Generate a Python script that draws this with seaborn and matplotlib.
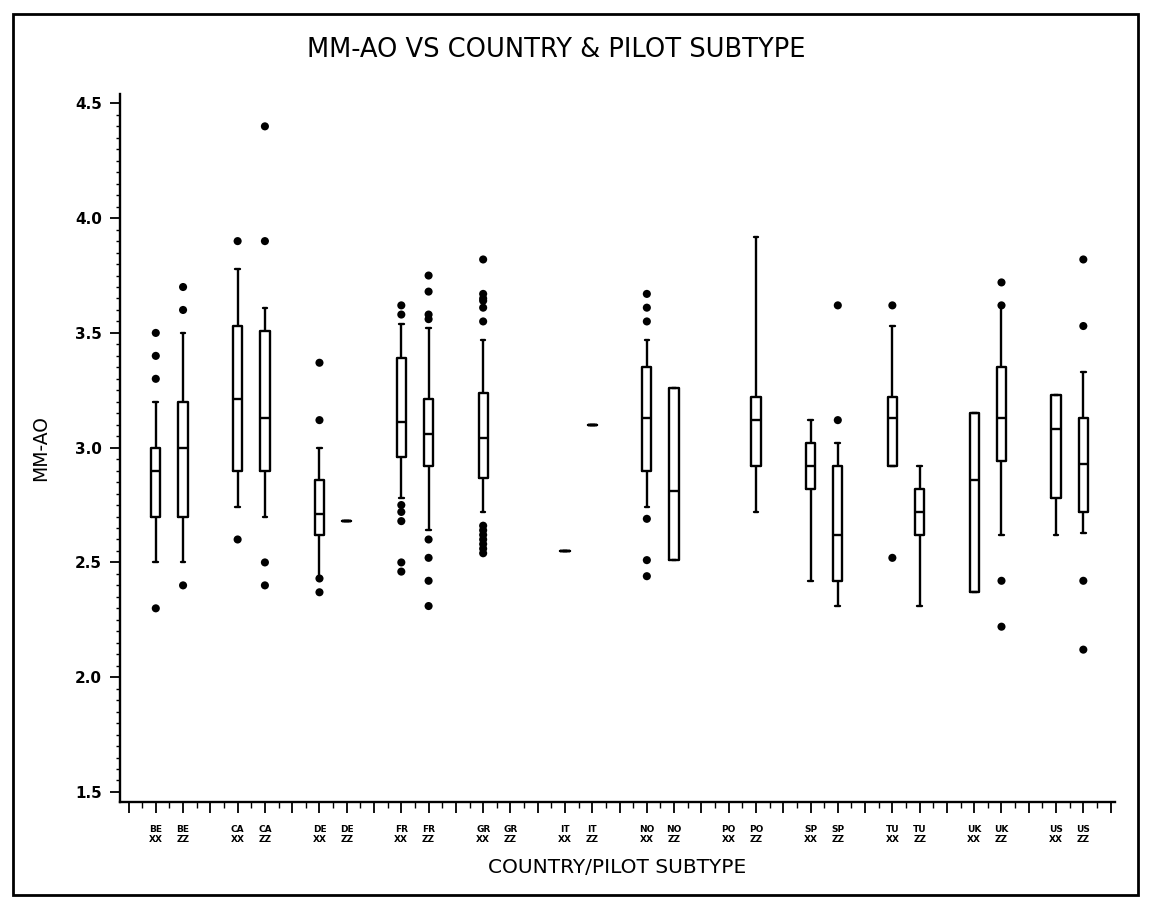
import pandas as pd
import matplotlib.pyplot as plt
from matplotlib.patches import Rectangle
from matplotlib.ticker import MultipleLocator
import seaborn as sns

# groups: country x pilot subtype (XX, ZZ)
countries = ["BE", "CA", "DE", "FR", "GR", "IT", "NO", "PO", "SP", "TU", "UK", "US"]
subtypes = ["XX", "ZZ"]

# box summaries, one entry per group (None = no data)
whisk_lo = [2.50, 2.50, 2.74, 2.70, 2.43, 2.68, 2.78, 2.64, 2.72, None, 2.55, 3.10,
            2.74, 2.51, None, 2.72, 2.42, 2.31, 2.92, 2.31, 2.37, 2.62, 2.62, 2.63]
q1 = [2.70, 2.70, 2.90, 2.90, 2.62, 2.68, 2.96, 2.92, 2.87, None, 2.55, 3.10,
      2.90, 2.51, None, 2.92, 2.82, 2.42, 2.92, 2.62, 2.37, 2.94, 2.78, 2.72]
median = [2.90, 3.00, 3.21, 3.13, 2.71, 2.68, 3.11, 3.06, 3.04, None, 2.55, 3.10,
          3.13, 2.81, None, 3.12, 2.92, 2.62, 3.13, 2.72, 2.86, 3.13, 3.08, 2.93]
q3 = [3.00, 3.20, 3.53, 3.51, 2.86, 2.68, 3.39, 3.21, 3.24, None, 2.55, 3.10,
      3.35, 3.26, None, 3.22, 3.02, 2.92, 3.22, 2.82, 3.15, 3.35, 3.23, 3.13]
whisk_hi = [3.20, 3.50, 3.78, 3.61, 3.00, 2.68, 3.54, 3.52, 3.47, None, 2.55, 3.10,
            3.47, 3.26, None, 3.92, 3.12, 3.02, 3.53, 2.92, 3.15, 3.62, 3.23, 3.33]
outliers = [
    [2.30, 3.30, 3.40, 3.50],
    [2.40, 3.60, 3.70],
    [2.60, 3.90],
    [2.40, 2.50, 3.90, 4.40],
    [2.37, 2.43, 3.12, 3.37],
    [],
    [2.46, 2.50, 2.68, 2.72, 2.75, 3.58, 3.62],
    [2.31, 2.42, 2.52, 2.60, 3.56, 3.58, 3.68, 3.75],
    [2.54, 2.56, 2.58, 2.60, 2.62, 2.64, 2.66, 3.55, 3.61, 3.64, 3.65, 3.67, 3.82],
    [],
    [],
    [],
    [2.44, 2.51, 2.69, 3.55, 3.61, 3.67],
    [],
    [],
    [],
    [],
    [3.12, 3.62],
    [2.52, 3.62],
    [],
    [],
    [2.22, 2.42, 3.62, 3.72],
    [],
    [2.12, 2.42, 3.53, 3.82],
]

# slot position of each group on the axis: XX, ZZ, then an empty slot
labels = []
positions = []
for i, c in enumerate(countries):
    for j, s in enumerate(subtypes):
        labels.append(c + "\n" + s)
        positions.append(i * 3 + j)

box_rows = []
out_rows = []
for k, pos in enumerate(positions):
    if median[k] is not None:
        for v in [whisk_lo[k], q1[k], median[k], q3[k], whisk_hi[k]]:
            box_rows.append({"pos": pos, "value": v})
    for v in outliers[k]:
        out_rows.append({"pos": pos, "value": v})
box_df = pd.DataFrame(box_rows)
out_df = pd.DataFrame(out_rows)

sns.set_style("ticks")
plt.rcParams["font.family"] = ["DejaVu Sans"]
for key in ["text.color", "axes.labelcolor", "xtick.color", "ytick.color", "axes.edgecolor"]:
    plt.rcParams[key] = "black"

fig = plt.figure(figsize=(11.51, 9.06), dpi=100)
ax = fig.add_axes([0.1043, 0.115, 0.8644, 0.781])

sns.boxplot(data=box_df, x="pos", y="value", native_scale=True, orient="x",
            whis=(0, 100), width=0.34, fill=False, color="black",
            linecolor="black", linewidth=1.7, showfliers=False, ax=ax)
sns.scatterplot(data=out_df, x="pos", y="value", color="black", s=34,
                edgecolor="none", ax=ax, zorder=3)

ax.set_xlim(-1.31, 35.16)
ax.set_ylim(1.457, 4.54)

ax.set_xticks(range(-1, 36))
tick_text = [""] * 37
for lab, pos in zip(labels, positions):
    tick_text[pos + 1] = lab
ax.set_xticklabels(tick_text, fontsize=6.5, fontweight="bold", linespacing=1.15)
ax.xaxis.set_minor_locator(MultipleLocator(0.5))
ax.tick_params(axis="x", which="major", length=8, width=1.3, pad=9)
ax.tick_params(axis="x", which="minor", length=4, width=1.0)

ax.yaxis.set_minor_locator(MultipleLocator(0.05))
ax.set_yticks([1.5, 2.0, 2.5, 3.0, 3.5, 4.0, 4.5])
ax.set_yticklabels(["1.5", "2.0", "2.5", "3.0", "3.5", "4.0", "4.5"],
                   fontsize=11, fontweight="bold")
ax.tick_params(axis="y", which="major", length=7, width=1.3, pad=6)
ax.tick_params(axis="y", which="minor", length=3, width=1.0)

sns.despine(ax=ax)
for side in ["left", "bottom"]:
    ax.spines[side].set_linewidth(1.7)

ax.set_xlabel("COUNTRY/PILOT SUBTYPE", fontsize=14.5, labelpad=10)
ax.set_ylabel("MM-AO", fontsize=13.5, labelpad=18)
fig.text(0.483, 0.945, "MM-AO VS COUNTRY & PILOT SUBTYPE", ha="center", va="center",
         fontsize=18.5)

fig.patches.append(Rectangle((0.011, 0.012), 0.978, 0.972, transform=fig.transFigure,
                             fill=False, edgecolor="black", linewidth=2))

fig.savefig("out.png", dpi=100)
